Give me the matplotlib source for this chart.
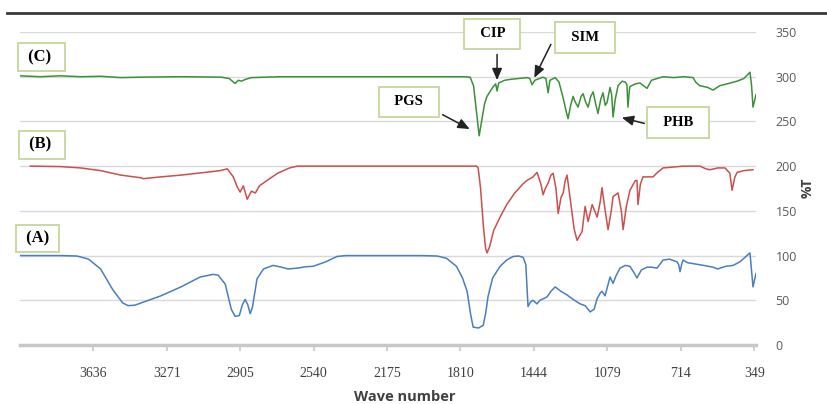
import matplotlib.pyplot as plt
import numpy as np

# FTIR spectra, three traces offset by 100 %T

wn_a = [4001, 3800, 3717, 3660, 3600, 3540, 3490, 3463, 3430, 3300, 3200, 3105, 3040, 3015, 2980, 2950,
        2931, 2910, 2895, 2881, 2868, 2856, 2845, 2822, 2790, 2742, 2700, 2667, 2620, 2580, 2543, 2480,
        2424, 2380, 2000, 1926, 1880, 1830, 1800, 1777, 1760, 1747, 1720, 1697, 1685, 1673, 1650, 1613,
        1580, 1548, 1520, 1498, 1485, 1474, 1462, 1449, 1430, 1414, 1395, 1379, 1360, 1339, 1310, 1280,
        1250, 1215, 1190, 1165, 1145, 1130, 1115, 1106, 1091, 1066, 1051, 1035, 1016, 990, 967, 950,
        932, 910, 882, 860, 832, 802, 770, 733, 725, 718, 710, 703, 680, 653, 600, 554, 530, 519,
        490, 454, 420, 385, 370, 355, 340]
t_a = [100, 100, 99.5, 96, 85, 62, 47, 44, 44.5, 55, 65, 76, 79, 78, 68, 40,
       32, 33, 45, 51, 45, 35, 42, 74, 85, 89, 87, 85, 86, 87.5, 88, 93,
       99, 100, 100, 99.5, 97, 88, 75, 60, 35, 20, 19, 22, 35, 54, 75, 88,
       95, 99, 99.5, 98, 90, 43, 48, 50, 46, 50, 52, 54, 60, 65, 60, 56,
       51, 46, 44, 37, 40, 52, 58, 60, 55, 76, 69, 78, 86, 89, 88, 82,
       75, 84, 87, 87, 86, 95, 96, 93, 90, 82, 90, 95, 92, 91, 89, 87, 85, 86,
       88, 89, 93, 100, 103, 65, 80]

wn_b = [3950, 3800, 3700, 3600, 3500, 3400, 3388, 3300, 3200, 3100, 3005, 2970, 2940, 2921, 2906, 2890,
        2871, 2850, 2830, 2810, 2772, 2720, 2660, 2622, 2000, 1760, 1730, 1722, 1710, 1695, 1685, 1678,
        1665, 1645, 1613, 1580, 1540, 1500, 1479, 1449, 1429, 1410, 1399, 1388, 1374, 1360, 1349, 1335,
        1324, 1310, 1299, 1290, 1280, 1265, 1245, 1230, 1205, 1190, 1175, 1155, 1130, 1115, 1106, 1090,
        1076, 1060, 1051, 1026, 1010, 1001, 985, 967, 940, 932, 927, 915, 902, 852, 830, 802,
        750, 703, 618, 590, 569, 530, 494, 470, 459, 445, 434, 400, 355]
t_b = [200, 199.5, 198, 195, 190, 187, 186, 188, 190, 192.5, 195, 197, 188, 177, 171, 178,
       163, 172, 170, 178, 184, 192, 198, 200, 200, 200, 200, 198, 175, 130, 108, 103,
       110, 128, 143, 157, 170, 180, 184, 188, 193, 180, 168, 175, 181, 190, 192, 175,
       147, 165, 170, 183, 190, 165, 130, 117, 127, 155, 138, 157, 143, 160, 176, 150,
       129, 150, 166, 170, 150, 129, 155, 173, 184, 184, 157, 180, 188, 188, 193, 198,
       199, 200, 200, 197, 196, 198, 198, 192, 173, 188, 193, 195, 196]

wn_c = [4001, 3900, 3800, 3700, 3600, 3500, 3400, 3200, 3000, 2960, 2945, 2931, 2915, 2900, 2880, 2850,
        2700, 2400, 2000, 1800, 1762, 1745, 1730, 1717, 1705, 1690, 1678, 1650, 1635, 1628, 1620, 1590,
        1563, 1500, 1479, 1465, 1454, 1440, 1429, 1400, 1385, 1374, 1365, 1339, 1320, 1299, 1285, 1275,
        1262, 1250, 1240, 1225, 1210, 1200, 1188, 1175, 1162, 1150, 1138, 1126, 1112, 1101, 1090, 1081,
        1066, 1058, 1051, 1040, 1026, 1006, 990, 982, 977, 970, 967, 940, 917, 900, 882, 860,
        832, 802, 750, 700, 653, 640, 620, 580, 554, 520, 484, 434, 400, 370, 362, 355, 340]
t_c = [301, 300, 301, 300, 300.5, 299, 299.5, 300, 299.5, 298, 295, 292.5, 296, 295, 297, 299,
       300, 300, 300, 300, 299.5, 290, 260, 234, 250, 270, 278, 288, 292, 284, 293, 296,
       297, 298.5, 299, 298, 291, 296, 297, 299.5, 298, 282, 296, 299, 294, 276, 262, 253,
       268, 278, 272, 266, 278, 281, 272, 266, 278, 283, 270, 259, 275, 282, 268, 271,
       288, 280, 255, 275, 290, 295, 294, 291, 266, 285, 289, 292, 293, 290, 287, 296,
       298, 300, 299, 300, 299, 294, 290, 288, 285, 290, 292, 295, 298, 305, 290, 266, 280]

xticks = [3636, 3271, 2905, 2540, 2175, 1810, 1444, 1079, 714, 349]
yticks = [0, 50, 100, 150, 200, 250, 300, 350]

# (text, x, y) for trace labels and (text, box x, box y, tail x, tail y, head x, head y) for peaks
labels = [("(C)", 3895, 322), ("(B)", 3890, 224), ("(A)", 3915, 119)]
peaks = [("PGS", 2066, 272, 1911, 259, 1752, 240),
         ("CIP", 1653, 348, 1628, 328, 1628, 293),
         ("SIM", 1190, 344, 1354, 339, 1449, 296),
         ("PHB", 728, 249, 882, 247, 1021, 255)]

fig = plt.figure(figsize=(8.28, 4.04), dpi=100)
ax = fig.add_axes([20 / 828, 59 / 404, 736 / 828, 313 / 404])

ax.plot(wn_a, t_a, color="#4a7ebb", lw=1.1)
ax.plot(wn_b, t_b, color="#c9504d", lw=1.1)
ax.plot(wn_c, t_c, color="#3d8f3a", lw=1.1)

ax.set_xlim(4001, 340)
ax.set_ylim(0, 350)
ax.set_xticks(xticks)
ax.set_xticklabels([str(v) for v in xticks], family="Liberation Serif", fontsize=10, color="#404040")
ax.yaxis.tick_right()
ax.set_yticks(yticks)
ax.set_yticklabels([str(v) for v in yticks], family="Open Sans", fontsize=9, color="#595959")
ax.tick_params(axis="y", length=0, pad=14)
ax.tick_params(axis="x", length=4, width=1.2, color="#c8c8c8", pad=12)
ax.grid(axis="y", color="#d9d9d9", lw=1)
for s in ["top", "left", "right"]:
    ax.spines[s].set_visible(False)
ax.spines["bottom"].set_color("#c8c8c8")
ax.spines["bottom"].set_linewidth(2.5)
ax.set_axisbelow(True)

box = dict(boxstyle="square,pad=0.35", fc="white", ec="#c4d79b", lw=1.3)
for txt, x, y in labels:
    wide = "  " if txt != "(A)" else " "
    ax.text(x, y, " " + txt + wide, ha="center", va="center", family="Liberation Serif",
            fontweight="bold", fontsize=12, bbox=box)
for txt, bx, by, tx, ty, hx, hy in peaks:
    ax.annotate("", xy=(hx, hy), xytext=(tx, ty),
                arrowprops=dict(arrowstyle="-|>,head_length=0.7,head_width=0.3", color="#222222", lw=1.1))
    ax.text(bx, by, "  " + txt + "  ", ha="center", va="center", family="Liberation Serif",
            fontweight="bold", fontsize=10.5, bbox=dict(boxstyle="square,pad=0.6", fc="white",
                                                         ec="#c4d79b", lw=1.3))

fig.text(405 / 828, 1 - 397 / 404, "Wave number", ha="center", va="center", family="Open Sans",
         fontweight="bold", fontsize=10.5, color="#404040")
fig.text(808 / 828, 1 - 188 / 404, "%T", ha="center", va="center", rotation=90, family="Open Sans",
         fontweight="bold", fontsize=10, color="#404040")
fig.add_artist(plt.Line2D([7 / 828, 1], [1 - 13 / 404, 1 - 13 / 404], color="#3a3a3a", lw=2))

fig.savefig("out.png", dpi=100)
